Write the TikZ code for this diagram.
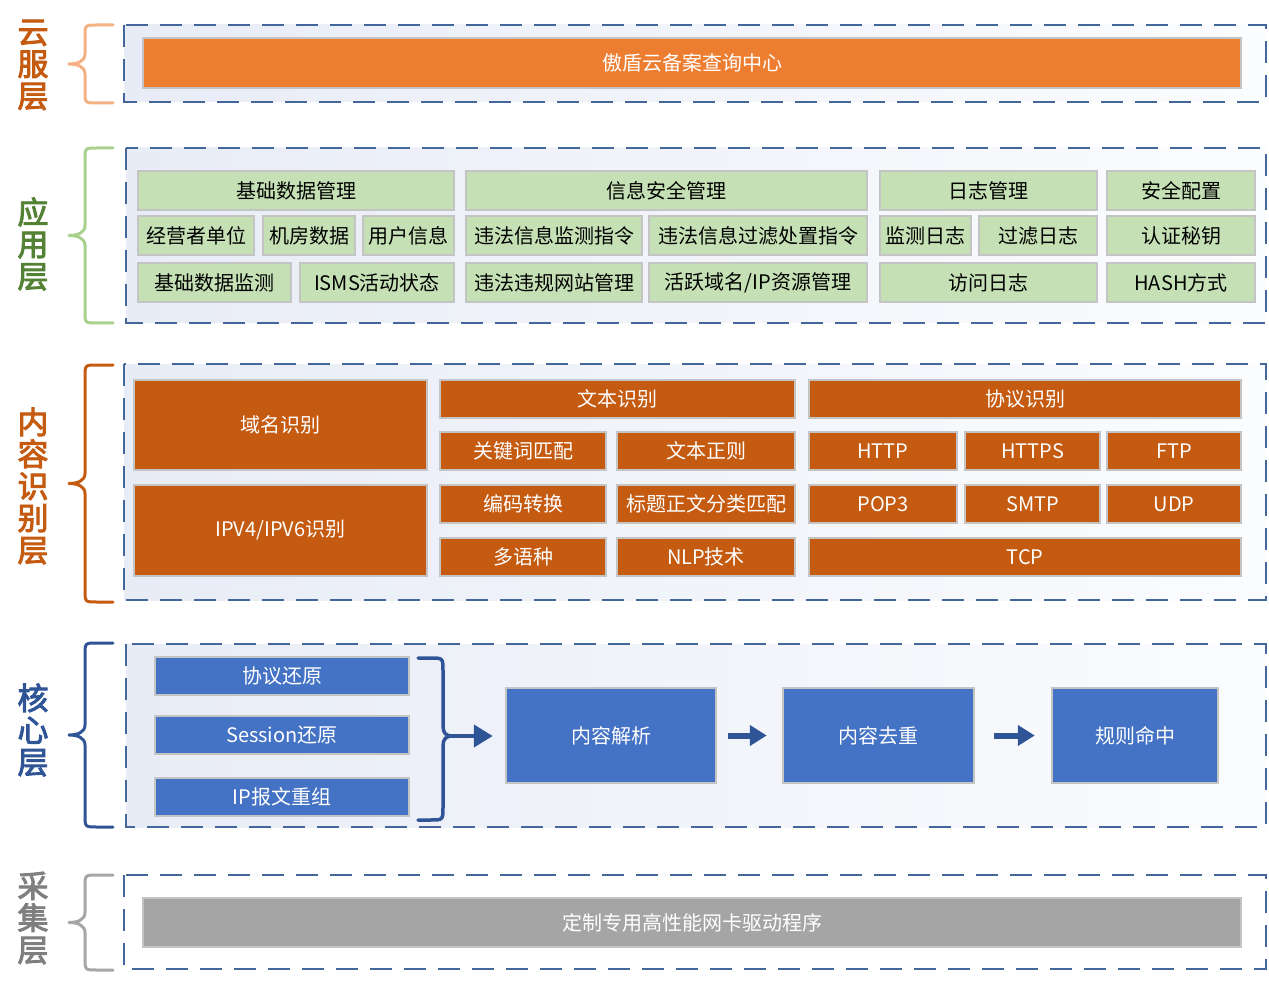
\documentclass[tikz,border=0pt]{standalone}
\usepackage{fontspec}
\setmainfont{Noto Sans CJK SC}
\newfontfamily\labfont[FakeBold=3]{Noto Sans CJK SC}
\usetikzlibrary{arrows.meta}
\definecolor{dashc}{HTML}{44679B}
\definecolor{boxline}{HTML}{C4C4C4}
\definecolor{cloudor}{HTML}{ED7D31}
\definecolor{appgreen}{HTML}{C5E0B4}
\definecolor{recog}{HTML}{C55A11}
\definecolor{coreblue}{HTML}{4472C4}
\definecolor{darkblue}{HTML}{2F5597}
\definecolor{capgray}{HTML}{A5A5A5}
\definecolor{bgleft}{HTML}{E8ECF6}
\definecolor{bgright}{HTML}{FBFCFE}
\definecolor{brOrange}{HTML}{F4B183}
\definecolor{brGreen}{HTML}{A9D18E}
\definecolor{brBrown}{HTML}{C55A11}
\definecolor{brGray}{HTML}{A6A6A6}
\definecolor{labOrange}{HTML}{C55A11}
\definecolor{labGreen}{HTML}{548235}
\definecolor{labGray}{HTML}{7F7F7F}
\newcommand\bx[7]{\node[#1, minimum width={#5-#3}, minimum height={#6-#4}] (#2) at ({(#3+#5)/2},{(#4+#6)/2}) {#7};}
\newcommand\lbr[3]{% colour, top, bottom
  \draw[brace, draw=#1] (113,#2) -- (97,#2) .. controls (85,#2) .. (85,{#2+12})
   -- (85,{(#2+#3)/2-10}) .. controls (85,{(#2+#3)/2-3}) and (78,{(#2+#3)/2}) .. (69,{(#2+#3)/2})
   .. controls (78,{(#2+#3)/2}) and (85,{(#2+#3)/2+3}) .. (85,{(#2+#3)/2+10})
   -- (85,{#3-12}) .. controls (85,#3) .. (97,#3) -- (113,#3);}
\begin{document}
\begin{tikzpicture}[x=1pt,y=-1pt,
  base/.style={draw=boxline, line width=2.5pt, inner sep=0pt, font=\fontsize{20}{24}\selectfont},
  gbox/.style={base, fill=appgreen, text=black},
  obox/.style={base, fill=recog, text=white},
  bbox/.style={base, fill=coreblue, text=white},
  layer/.style={draw=dashc, line width=2.5pt, dash pattern=on 22pt off 12pt, left color=bgleft, right color=bgright},
  brace/.style={line width=3pt, line cap=round, line join=round},
  lab/.style={align=center, inner sep=0pt, font=\labfont\fontsize{31}{32}\selectfont},
  arr/.style={draw=darkblue, line width=6pt, -{Triangle[length=17pt,width=20pt]}}
]
\useasboundingbox (0,0) rectangle (1269,984);
\fill[white] (0,0) rectangle (1269,984);

% ---------- layer 1
\draw[layer] (124,25) rectangle (1266,102);
\lbr{brOrange}{25}{103}
\node[lab, text=labOrange] (l1) at (33,65) {云\\服\\层};
\bx{base, fill=cloudor, text=white}{cloud}{143}{38}{1241}{88}{傲盾云备案查询中心}

% ---------- layer 2
\draw[layer] (126,148) rectangle (1266,323);
\lbr{brGreen}{148}{323}
\node[lab, text=labGreen] (l2) at (33,244) {应\\用\\层};
\bx{gbox}{a1}{138}{171}{454}{210}{基础数据管理}
\bx{gbox}{a2}{466}{171}{867}{210}{信息安全管理}
\bx{gbox}{a3}{880}{171}{1097}{210}{日志管理}
\bx{gbox}{a4}{1107}{171}{1255}{210}{安全配置}
\bx{gbox}{b1}{138}{216}{254}{255}{经营者单位}
\bx{gbox}{b2}{263}{216}{355}{255}{机房数据}
\bx{gbox}{b3}{363}{216}{454}{255}{用户信息}
\bx{gbox}{b4}{466}{216}{642}{255}{违法信息监测指令}
\bx{gbox}{b5}{649}{216}{867}{255}{违法信息过滤处置指令}
\bx{gbox}{b6}{880}{216}{971}{255}{监测日志}
\bx{gbox}{b7}{979}{216}{1097}{255}{过滤日志}
\bx{gbox}{b8}{1107}{216}{1255}{255}{认证秘钥}
\bx{gbox}{c1}{138}{263}{291}{302}{基础数据监测}
\bx{gbox}{c2}{300}{263}{454}{302}{ISMS活动状态}
\bx{gbox}{c3}{466}{263}{642}{302}{违法违规网站管理}
\bx{gbox}{c4}{649}{263}{867}{302}{活跃域名/IP资源管理}
\bx{gbox}{c5}{880}{263}{1097}{302}{访问日志}
\bx{gbox}{c6}{1107}{263}{1255}{302}{HASH方式}

% ---------- layer 3
\draw[layer] (124,364) rectangle (1266,600);
\lbr{brBrown}{365}{602}
\node[lab, text=labOrange] (l3) at (33,486) {内\\容\\识\\别\\层};
\bx{obox}{d1}{134}{380}{427}{470}{域名识别}
\bx{obox}{d2}{134}{485}{427}{576}{IPV4/IPV6识别}
\bx{obox}{t0}{440}{380}{795}{418}{文本识别}
\bx{obox}{t1}{440}{432}{606}{470}{关键词匹配}
\bx{obox}{t2}{617}{432}{795}{470}{文本正则}
\bx{obox}{t3}{440}{485}{606}{523}{编码转换}
\bx{obox}{t4}{617}{485}{795}{523}{标题正文分类匹配}
\bx{obox}{t5}{440}{538}{606}{576}{多语种}
\bx{obox}{t6}{617}{538}{795}{576}{NLP技术}
\bx{obox}{p0}{809}{380}{1241}{418}{协议识别}
\bx{obox}{p1}{809}{432}{957}{470}{HTTP}
\bx{obox}{p2}{965}{432}{1100}{470}{HTTPS}
\bx{obox}{p3}{1107}{432}{1241}{470}{FTP}
\bx{obox}{p4}{809}{485}{957}{523}{POP3}
\bx{obox}{p5}{965}{485}{1100}{523}{SMTP}
\bx{obox}{p6}{1107}{485}{1241}{523}{UDP}
\bx{obox}{p7}{809}{538}{1241}{576}{TCP}

% ---------- layer 4
\draw[layer] (126,644) rectangle (1266,827);
\lbr{darkblue}{643}{827}
\node[lab, text=darkblue] (l4) at (33,730) {核\\心\\层};
\bx{bbox}{r1}{155}{657}{409}{695}{协议还原}
\bx{bbox}{r2}{155}{716}{409}{754}{Session还原}
\bx{bbox}{r3}{155}{778}{409}{816}{IP报文重组}
\bx{bbox}{parse}{506}{688}{716}{783}{内容解析}
\bx{bbox}{dedup}{783}{688}{974}{783}{内容去重}
\bx{bbox}{rule}{1052}{688}{1218}{783}{规则命中}
\coordinate (tip) at (452,736);
\draw[brace, draw=darkblue, line width=3.5pt] (418,658) -- (430,658) .. controls (443,658) .. (443,671)
   -- (443,726) .. controls (443,733) and (446,736) .. (tip)
   .. controls (446,736) and (443,739) .. (443,746)
   -- (443,807) .. controls (443,820) .. (430,820) -- (418,820);
\draw[draw=darkblue, line width=4.5pt, -{Triangle[length=19pt,width=22pt]}] (tip) -- ([xshift=-12pt]parse.west |- tip);
\draw[arr] ([xshift=11pt]parse.east) -- ([xshift=-15pt]dedup.west);
\draw[arr] ([xshift=19pt]dedup.east) -- ([xshift=-16pt]rule.west);

% ---------- layer 5
\draw[layer, left color=white, right color=white] (124,875) rectangle (1266,969);
\lbr{brGray}{875}{970}
\node[lab, text=labGray] (l5) at (33,918) {采\\集\\层};
\bx{base, fill=capgray, text=white}{nic}{143}{898}{1241}{947}{定制专用高性能网卡驱动程序}
\end{tikzpicture}
\end{document}
